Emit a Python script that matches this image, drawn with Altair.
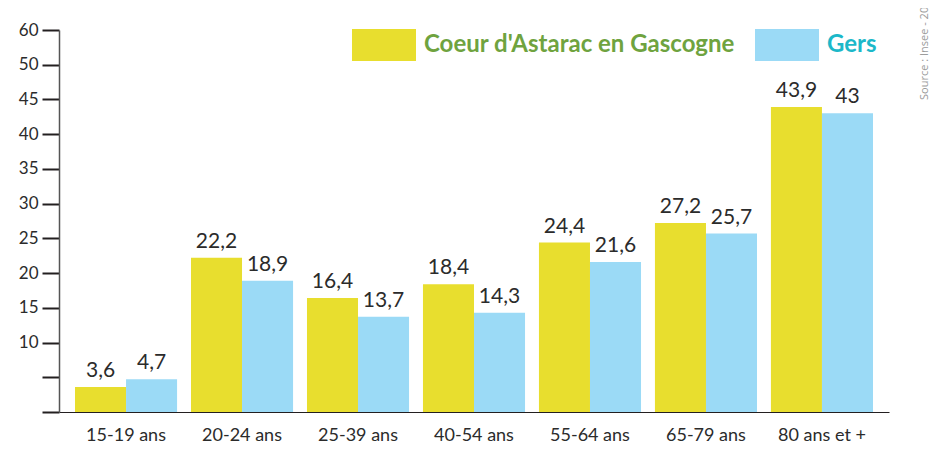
import altair as alt
import pandas as pd

categories = ["15-19 ans", "20-24 ans", "25-39 ans", "40-54 ans", "55-64 ans", "65-79 ans", "80 ans et +"]
coeur = [3.6, 22.2, 16.4, 18.4, 24.4, 27.2, 43.9]
gers = [4.7, 18.9, 13.7, 14.3, 21.6, 25.7, 43]
series = ["Coeur d'Astarac en Gascogne", "Gers"]
colors = ["#E8DE2E", "#9BDAF6"]
ytick_values = [0, 5, 10, 15, 20, 25, 30, 35, 40, 45, 50, 55]

rows = []
for i, c in enumerate(categories):
    rows.append({"cat": c, "serie": series[0], "v": coeur[i]})
    rows.append({"cat": c, "serie": series[1], "v": gers[i]})
df = pd.DataFrame(rows)
df["lab"] = df["v"].map(lambda v: (str(v) if v % 1 else str(int(v))).replace(".", ","))

FONT = "Lato"

x = alt.X("cat:N", sort=categories, title=None,
          scale=alt.Scale(paddingInner=0.12, paddingOuter=0.138),
          axis=alt.Axis(labelAngle=0, labelFont=FONT, labelFontSize=18, labelColor="#2b2b2b",
                        labelPadding=14, ticks=False, domainColor="#231f20", domainWidth=1.2))
xo = alt.XOffset("serie:N", sort=series, scale=alt.Scale(paddingInner=0, paddingOuter=0))
y = alt.Y("v:Q", title=None,
          scale=alt.Scale(domain=[0, 55], nice=False, zero=True),
          axis=alt.Axis(values=ytick_values, grid=False, labelOverlap=False,
                        labelExpr="datum.value == 55 ? '60' : (datum.value <= 5 ? '' : datum.label)",
                        labelFont=FONT, labelFontSize=17, labelColor="#2b2b2b", labelPadding=4,
                        tickSize=17, tickWidth=2, tickColor="#231f20",
                        domainColor="#555555", domainWidth=1.5))

color = alt.Color("serie:N", sort=series,
                  scale=alt.Scale(domain=series, range=colors),
                  legend=alt.Legend(title=None, orient="none", legendX=293, legendY=-17,
                                    direction="horizontal",
                                    symbolType="M-1,-0.5H1V0.5H-1Z", symbolSize=4096,
                                    symbolStrokeWidth=0, symbolOpacity=1,
                                    labelFont=FONT, labelFontSize=24, labelFontWeight="bold",
                                    labelColor=alt.ExprRef(expr="datum.label == 'Gers' ? '#1cb8c9' : '#6fa33f'"),
                                    labelOffset=8, columnPadding=20, labelLimit=400))

bars = alt.Chart(df).mark_bar(opacity=1).encode(x=x, xOffset=xo, y=y, color=color)
texts = alt.Chart(df).mark_text(baseline="bottom", dy=-6, font=FONT, fontSize=21, color="#2b2b2b").encode(
    x=x, xOffset=xo, y=y, text="lab:N")

source = alt.Chart(pd.DataFrame({"t": ["Source : Insee - 2016"]})).mark_text(
    angle=270, align="left", baseline="middle", font="Open Sans", fontSize=11, color="#9a9a9a"
).encode(x=alt.value(866), y=alt.value(70), text="t:N")

chart = alt.layer(bars, texts, source).properties(
    width=830, height=382,
    autosize=alt.AutoSizeParams(type="none"),
    padding={"left": 51, "top": 22, "right": 42, "bottom": 40},
).configure_view(stroke=None)

chart.save("out.html", embed_options={"renderer": "svg", "actions": False})
